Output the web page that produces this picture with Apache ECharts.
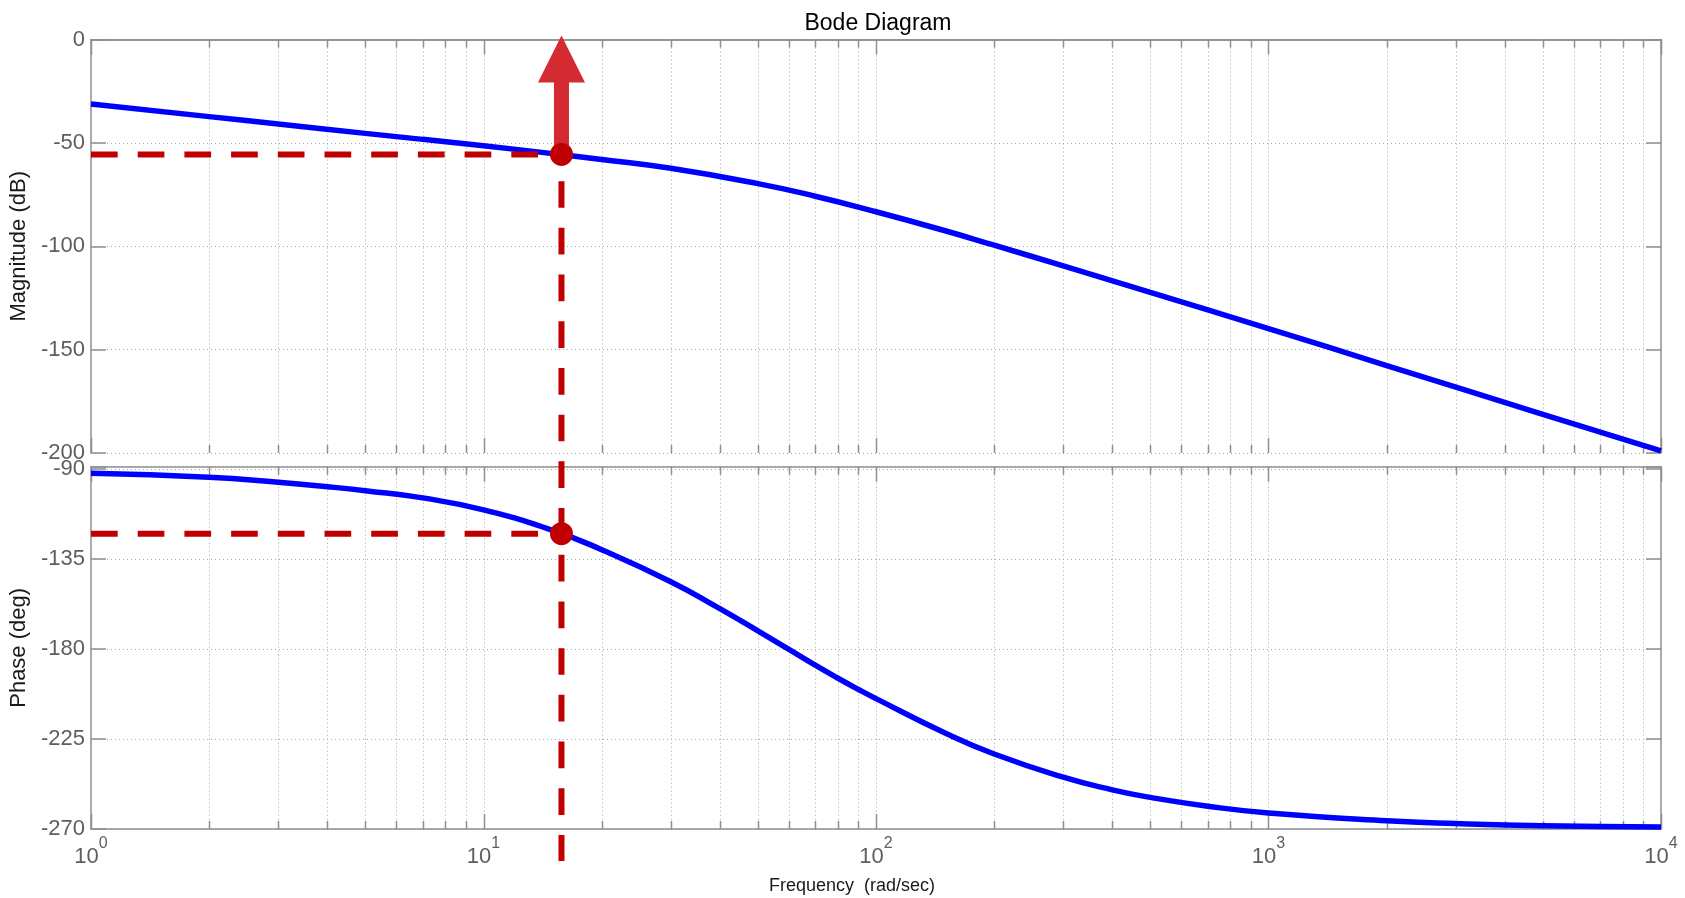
<!DOCTYPE html>
<html>
<head>
<meta charset="utf-8">
<script src="https://cdn.jsdelivr.net/npm/echarts@6/dist/echarts.min.js"></script>
<style>
html,body{margin:0;padding:0;background:#fff;}
#chart{width:1685px;height:898px;}
</style>
</head>
<body>
<div id="chart"></div>
<script>
// ---- data ----
const freqMag = [1, 2, 3, 5, 7, 10, 15, 20, 30, 50, 70, 100, 150, 200, 300, 500, 1000, 2000, 5000, 10000];
const magDb   = [-31.2, -37.3, -40.9, -45.4, -48.3, -51.4, -55.2, -58, -62.3, -69.7, -75.8, -83.3, -92.5, -99.5, -109.5, -122.3, -139.8, -157.7, -181.3, -199];
const freqPh  = [1, 2, 3, 4, 5, 7, 10, 15, 20, 30, 40, 50, 60, 70, 80, 90, 100, 150, 200, 300, 400, 500, 700, 1000, 2000, 3000, 5000, 10000];
const phaseDeg = [-92.1, -94.1, -96.6, -98.8, -100.8, -104.4, -110.4, -120.6, -130.3, -146.3, -159.8, -170.9, -180.2, -188.1, -194.6, -200.1, -204.8, -222, -232.5, -244.1, -250.4, -254.2, -258.6, -262, -265.9, -267.3, -268.4, -269];
const markFreq = 15.8;
const markMag = -55.6;
const markPhase = -122.3;
const freqRange = [1, 10000];
const magRange = [-200, 0];
const phaseRange = [-270, -88.8];
const magInterval = 50;
const phaseInterval = 45;
const titleText = 'Bode Diagram';
const magName = 'Magnitude (dB)';
const phaseName = 'Phase (deg)';
const freqName = 'Frequency  (rad/sec)';

// x tick positions: decades (major) and 2..9 per decade (minor)
const xTicks = [];
for (let d = 0; d <= 4; d++) {
  xTicks.push([Math.pow(10, d), 1]);
  if (d < 4) for (let m = 2; m <= 9; m++) xTicks.push([m * Math.pow(10, d), 0]);
}

// ---- layout / style ----
const FONT = 'Liberation Sans, Arial, Helvetica, sans-serif';
const AX = '#8f8f8f';
const GRIDC = '#a6a6a6';
const TXT = '#5e5e5e';
const RED = '#c00000';
const ARROW = '#d42a32';
const G0 = {left: 91, width: 1570, top: 39.5, height: 413.5};
const G1 = {left: 91, width: 1570, top: 466.7, height: 362.3};

const chart = echarts.init(document.getElementById('chart'), null, {renderer: 'canvas'});

function xAx(gridIndex, pos, labels) {
  return {
    type: 'log', logBase: 10, gridIndex, position: pos,
    min: freqRange[0], max: freqRange[1],
    axisLine: {show: true, lineStyle: {color: AX, width: 1.5}},
    axisTick: {show: false},
    splitLine: {show: false},
    axisLabel: labels ? {
      show: true, margin: 7,
      formatter: v => '{b|10}{s|' + Math.round(Math.log10(v)) + '}',
      rich: {
        b: {fontSize: 22, fontFamily: FONT, color: TXT, lineHeight: 32, verticalAlign: 'bottom'},
        s: {fontSize: 16, fontFamily: FONT, color: TXT, lineHeight: 16, verticalAlign: 'top'}
      }
    } : {show: false},
    name: labels ? freqName : '',
    nameLocation: 'middle', nameGap: 48,
    nameTextStyle: {fontSize: 18, fontFamily: FONT, color: '#1a1a1a', padding: [0, 48, 0, 0]}
  };
}
function yAx(gridIndex, pos, range, interval, labels, name) {
  return {
    type: 'value', gridIndex, position: pos,
    min: range[0], max: range[1], interval,
    axisLine: {show: true, lineStyle: {color: AX, width: 1.5}},
    axisTick: {show: true, inside: true, length: 15, lineStyle: {color: AX, width: 1.5}},
    splitLine: {show: labels, lineStyle: {color: GRIDC, type: [1, 3], width: 1}},
    axisLabel: labels ? {
      show: true, margin: 6, fontSize: 22, fontFamily: FONT, color: TXT,
      formatter: v => (Math.abs(v % interval) < 1e-9 ? String(v) : '')
    } : {show: false},
    name: name || '', nameLocation: 'middle', nameGap: 53,
    nameTextStyle: {fontSize: 22, fontFamily: FONT, color: '#1a1a1a'}
  };
}

function xTickRender(params, api) {
  const cs = params.coordSys;
  const f = api.value(0);
  const major = api.value(2) === 1;
  const x = Math.round(api.coord([f, api.value(1)])[0]) + 0.5;
  const y0 = cs.y, y1 = cs.y + cs.height;
  const len = major ? 15 : 8;
  const children = [
    {type: 'line', shape: {x1: x, y1: y1, x2: x, y2: y1 - len}, style: {stroke: AX, lineWidth: 1.5}},
    {type: 'line', shape: {x1: x, y1: y0, x2: x, y2: y0 + len}, style: {stroke: AX, lineWidth: 1.5}}
  ];
  if (f > freqRange[0] && f < freqRange[1]) {
    children.unshift({type: 'line', shape: {x1: x, y1: y0, x2: x, y2: y1}, style: {stroke: GRIDC, lineWidth: 1, lineDash: [1, 3]}});
  }
  return {type: 'group', children};
}

const option = {
  animation: false,
  backgroundColor: '#fff',
  title: {text: titleText, left: G0.left + G0.width / 2 - 3, top: 7, textAlign: 'center',
    textStyle: {fontSize: 23, fontWeight: 'normal', fontFamily: FONT, color: '#000'}},
  grid: [
    {left: G0.left, width: G0.width, top: G0.top, height: G0.height, containLabel: false},
    {left: G1.left, width: G1.width, top: G1.top, height: G1.height, containLabel: false}
  ],
  xAxis: [
    xAx(0, 'bottom', false),
    xAx(0, 'top', false),
    xAx(1, 'bottom', true),
    xAx(1, 'top', false)
  ],
  yAxis: [
    yAx(0, 'left', magRange, magInterval, true, magName),
    yAx(0, 'right', magRange, magInterval, false),
    yAx(1, 'left', phaseRange, phaseInterval, true, phaseName),
    yAx(1, 'right', phaseRange, phaseInterval, false)
  ],
  series: [
    {type: 'custom', xAxisIndex: 0, yAxisIndex: 0, renderItem: xTickRender, silent: true, z: 1, clip: false,
      data: xTicks.map(t => [t[0], magRange[0], t[1]])},
    {type: 'custom', xAxisIndex: 2, yAxisIndex: 2, renderItem: xTickRender, silent: true, z: 1, clip: false,
      data: xTicks.map(t => [t[0], phaseRange[0], t[1]])},
    {type: 'line', xAxisIndex: 0, yAxisIndex: 0, smooth: 0.5, showSymbol: false, z: 3,
      lineStyle: {color: '#0000ff', width: 5.5},
      data: freqMag.map((f, i) => [f, magDb[i]])},
    {type: 'line', xAxisIndex: 2, yAxisIndex: 2, smooth: 0.5, showSymbol: false, z: 3,
      lineStyle: {color: '#0000ff', width: 5.5},
      data: freqPh.map((f, i) => [f, phaseDeg[i]])},
    {type: 'line', xAxisIndex: 0, yAxisIndex: 0, showSymbol: false, z: 4,
      lineStyle: {color: RED, width: 6, type: [26.7, 20], cap: 'butt'},
      data: [[freqRange[0], markMag], [markFreq, markMag]]},
    {type: 'line', xAxisIndex: 2, yAxisIndex: 2, showSymbol: false, z: 4,
      lineStyle: {color: RED, width: 6, type: [26.7, 20], cap: 'butt'},
      data: [[freqRange[0], markPhase], [markFreq, markPhase]]},
    {type: 'custom', xAxisIndex: 0, yAxisIndex: 0, clip: false, z: 4, silent: true,
      data: [[markFreq, markMag]],
      renderItem: (params, api) => {
        const p = api.coord([api.value(0), api.value(1)]);
        const yEnd = G1.top + G1.height + 32;
        return {type: 'line', shape: {x1: p[0], y1: p[1], x2: p[0], y2: yEnd},
          style: {stroke: RED, lineWidth: 6, lineDash: [26.7, 20], lineDashOffset: 20}};
      }},
    {type: 'custom', xAxisIndex: 0, yAxisIndex: 0, clip: false, z: 5, silent: true,
      data: [[markFreq, markMag]],
      renderItem: (params, api) => {
        const p = api.coord([api.value(0), api.value(1)]);
        const top = params.coordSys.y - 4;
        const hb = top + 47;
        return {type: 'polygon', shape: {points: [
          [p[0] - 7.5, p[1]], [p[0] - 7.5, hb], [p[0] - 23.5, hb], [p[0], top],
          [p[0] + 23.5, hb], [p[0] + 7.5, hb], [p[0] + 7.5, p[1]]]},
          style: {fill: ARROW}};
      }},
    {type: 'scatter', xAxisIndex: 0, yAxisIndex: 0, symbol: 'circle', symbolSize: 23, z: 6,
      itemStyle: {color: RED, opacity: 1}, data: [[markFreq, markMag]]},
    {type: 'scatter', xAxisIndex: 2, yAxisIndex: 2, symbol: 'circle', symbolSize: 23, z: 6,
      itemStyle: {color: RED, opacity: 1}, data: [[markFreq, markPhase]]}
  ]
};
chart.setOption(option);
</script>
</body>
</html>
